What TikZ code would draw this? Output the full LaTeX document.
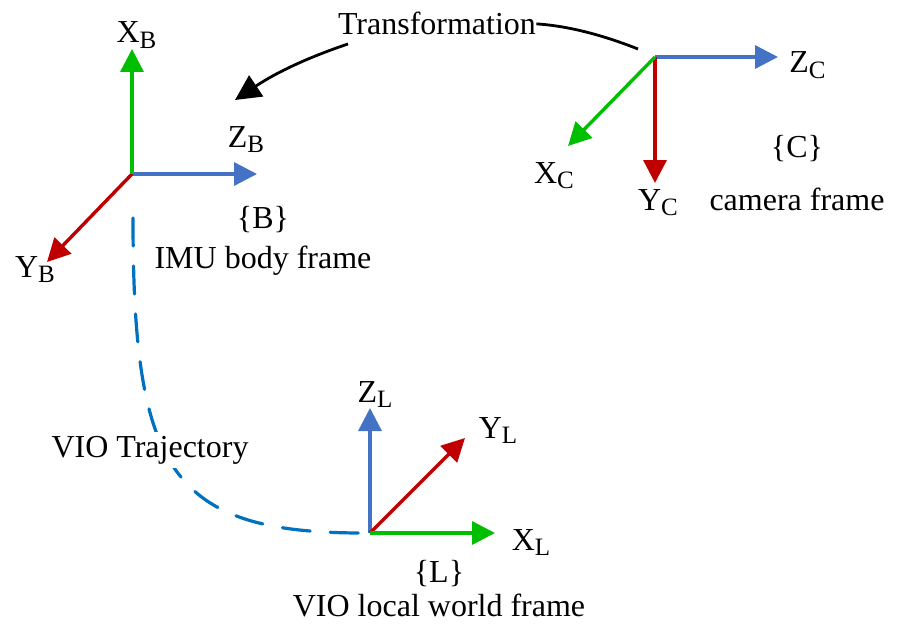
\documentclass[tikz,border=0pt]{standalone}
\usepackage{fontspec}
\setmainfont{Liberation Serif}
\usetikzlibrary{arrows.meta}
\definecolor{axgreen}{RGB}{0,190,0}
\definecolor{axblue}{RGB}{68,114,196}
\definecolor{axred}{RGB}{192,0,0}
\definecolor{trajblue}{RGB}{0,112,192}
\newcommand{\lowsub}[1]{\raisebox{-0.17em}{\fontsize{12.5}{13}\selectfont #1}}
\begin{document}
\begin{tikzpicture}[x=0.5pt,y=-0.5pt,
  lbl/.style={inner sep=0pt, anchor=base, font=\fontsize{16}{19}\selectfont},
  axis/.style={line width=1.7pt, -{Triangle[length=11.5pt,width=11.5pt]}},
  traj/.style={trajblue, line width=1.6pt, line cap=round, dash pattern=on 14pt off 10pt},
  trans/.style={black, line width=1.4pt},
]
\useasboundingbox (0,0) rectangle (897,626);

% ---- frame B ----
\coordinate (Bo) at (132,174);
\coordinate (BX) at (132,49);
\coordinate (BZ) at (257,174);
\coordinate (BY) at (47,262);
\draw[axis,axblue] (Bo) -- (BZ);
\draw[axis,axred] (Bo) -- (BY);
\draw[axis,axgreen] (Bo) -- (BX);
\node[lbl] (lXB) at (136.5,43) {X\lowsub{B}};
\node[lbl] (lZB) at (246,147) {Z\lowsub{B}};
\node[lbl] (lYB) at (35,277) {Y\lowsub{B}};
\node[lbl] (nB) at (263,228) {\{B\}};
\node[lbl] (nIMU) at (263,268) {IMU body frame};

% ---- frame C ----
\coordinate (Co) at (655,57);
\coordinate (CZ) at (778,57);
\coordinate (CY) at (655,183);
\coordinate (CX) at (568,146);
\draw[axis,axblue] (Co) -- (CZ);
\draw[axis,axred] (Co) -- (CY);
\draw[axis,axgreen] (Co) -- (CX);
\node[lbl] (lZC) at (807.5,73) {Z\lowsub{C}};
\node[lbl] (lXC) at (554,183) {X\lowsub{C}};
\node[lbl] (lYC) at (658,210) {Y\lowsub{C}};
\node[lbl] (nC) at (797,157) {\{C\}};
\node[lbl] (nCam) at (797,210) {camera frame};

% ---- frame L ----
\coordinate (Lo) at (370,533);
\coordinate (LZ) at (370,408);
\coordinate (LY) at (465,438);
\coordinate (LX) at (495,533);
\draw[axis,axblue] (Lo) -- (LZ);
\draw[axis,axred] (Lo) -- (LY);
\draw[axis,axgreen] (Lo) -- (LX);
\node[lbl] (lZL) at (375,402) {Z\lowsub{L}};
\node[lbl] (lYL) at (498,438) {Y\lowsub{L}};
\node[lbl] (lXL) at (531,550) {X\lowsub{L}};
\node[lbl] (nL) at (439,582) {\{L\}};
\node[lbl] (nVIO) at (439,616) {VIO local world frame};

% ---- trajectory ----
\coordinate (Ts) at (133,218);
\draw[traj, shorten >=3.5pt] (Ts) .. controls (133,470) and (170,533) .. (Lo);
\node[lbl, fill=white, inner sep=2pt] (nTraj) at (150,457) {VIO Trajectory};

% ---- transformation ----
\node[lbl] (T) at (437,35) {Transformation};
\coordinate (Tstart) at (638,49);
\coordinate (Tmid) at (348,44);
\coordinate (Ttip) at (235,100);
\draw[trans] (Tstart) .. controls (605,36) and (570,26) .. (T.east);
\draw[trans, -{Triangle[length=12.75pt,width=12.5pt]}] (Tmid) .. controls (315,55) and (280,70) .. (Ttip);
\end{tikzpicture}
\end{document}
